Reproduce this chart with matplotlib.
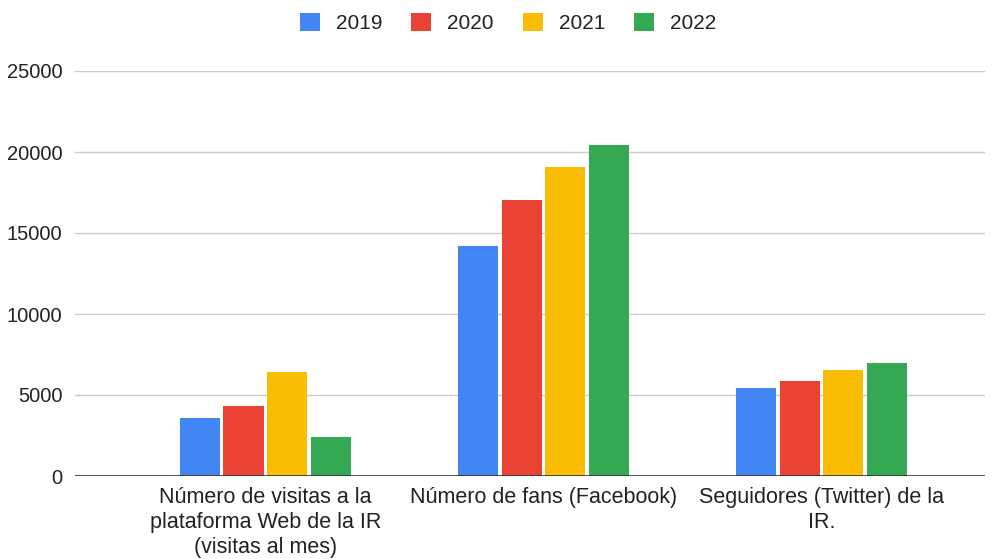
import matplotlib
matplotlib.use("Agg")
import matplotlib.pyplot as plt
import numpy as np

plt.rcParams['font.family'] = ['Liberation Sans', 'DejaVu Sans']

categories = ["Número de visitas a la\nplataforma Web de la IR\n(visitas al mes)",
              "Número de fans (Facebook)",
              "Seguidores (Twitter) de la\nIR."]
years = ["2019", "2020", "2021", "2022"]
values_2019 = [3560, 14180, 5450]
values_2020 = [4340, 17020, 5880]
values_2021 = [6440, 19050, 6530]
values_2022 = [2390, 20460, 6960]
colors = ["#4285F4", "#EA4335", "#FBBC04", "#34A853"]

series = [values_2019, values_2020, values_2021, values_2022]

fig = plt.figure(figsize=(9.96, 5.59), dpi=100)
ax = fig.add_axes([75/996, 1-476/559, 910/996, 405/559])

x = np.arange(len(categories))
step = 0.158
width = 0.144
for i, (vals, col, yr) in enumerate(zip(series, colors, years)):
    ax.bar(x + (i - 1.5) * step, vals, width, color=col, label=yr, zorder=3)

ax.set_xlim(-0.685, 2.588)
ax.set_ylim(0, 25000)
ax.set_yticks(range(0, 25001, 5000))
ax.grid(axis='y', color='#cccccc', linewidth=1, zorder=0)
ax.axhline(0, color='#333333', linewidth=1.2, zorder=4)
for s in ax.spines.values():
    s.set_visible(False)
ax.tick_params(axis='both', length=0, colors='#222222')
ax.tick_params(axis='y', pad=9, labelsize=14.5)
ax.tick_params(axis='x', pad=8, labelsize=15.5)
ax.set_xticks(x)
ax.set_xticklabels(categories, linespacing=1.24)

leg = fig.legend(loc='center', bbox_to_anchor=(0.51, 1 - 23/559), ncol=4, frameon=False,
                 fontsize=15, handlelength=0.95, handleheight=0.95, columnspacing=1.4,
                 handletextpad=0.77, labelcolor='#222222')

fig.savefig("out.png", dpi=100)
